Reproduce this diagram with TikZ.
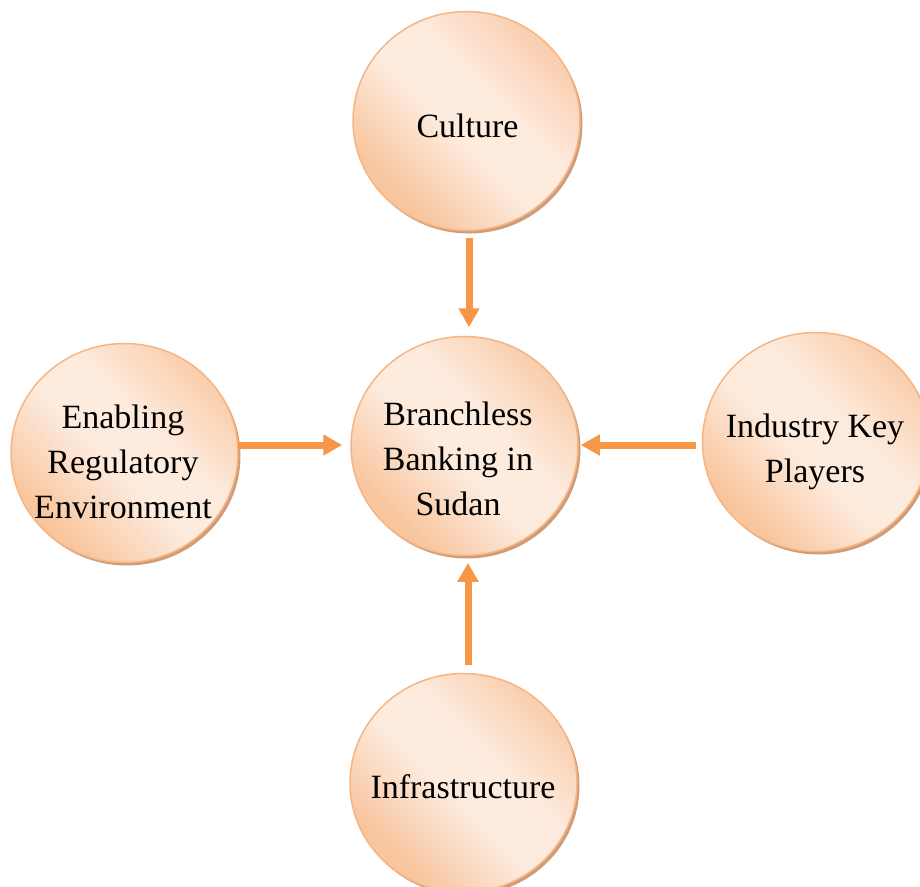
\documentclass[tikz,border=0pt]{standalone}
\usepackage{fontspec}
\setmainfont{Liberation Serif}
\usetikzlibrary{arrows.meta,shapes.geometric,calc,shadows}
\definecolor{pkD}{HTML}{F8C59D}
\definecolor{pkL}{HTML}{FDEBDE}
\definecolor{pkB}{HTML}{F5B584}
\definecolor{pkS}{HTML}{D09C78}
\definecolor{arrC}{HTML}{F79646}
\pgfdeclareverticalshading{peach}{100bp}{color(0bp)=(pkD); color(27bp)=(pkD); color(46bp)=(pkL); color(58bp)=(pkL); color(80bp)=(pkD); color(100bp)=(pkD)}
\tikzset{
  bubble/.style={ellipse, minimum width=227pt, minimum height=219pt, inner sep=0pt,
    shading=peach, shading angle=-45, draw=pkB, line width=1.5pt,
    drop shadow={shadow xshift=2.5pt, shadow yshift=-3pt, fill=pkS, opacity=1}},
  txt/.style={font=\fontsize{34}{45}\selectfont, align=center, inner sep=0pt, text=black},
  arr/.style={draw=arrC, line width=7pt, -{Triangle[width=20pt,length=19pt]}}
}
\begin{document}
\begin{tikzpicture}[x=1pt,y=-1pt]
\useasboundingbox (0,0) rectangle (920,886);
\node[bubble] (cu) at (466.5,121) {};
\node[bubble] (cc) at (464.5,446) {};
\node[bubble] (lc) at (124.5,453) {};
\node[bubble] (rc) at (816,442) {};
\node[bubble] (bc) at (463.5,783) {};

\node[txt, anchor=base] (tcu) at (467.5,137) {Culture};
\node[txt] (tcc) at (458,459) {Branchless\\Banking in\\Sudan};
\node[txt] (tlc) at (123,461.5) {Enabling\\Regulatory\\Environment};
\node[txt] (trc) at (815,452) {Industry Key\\Players};
\node[txt, anchor=base] (tbc) at (463,798) {Infrastructure};

\draw[arr] ($(cu.south)+(2.5,6.5)$) -- ($(cc.north)+(4.5,-8.5)$);
\draw[arr] ($(lc.east)+(-1,-8)$) -- ($(cc.west)+(-8,-1)$);
\draw[arr] ($(rc.west)+(-5.5,3)$) -- ($(cc.east)+(2,-1)$);
\draw[arr] ($(bc.north)+(4.5,-7.5)$) -- ($(cc.south)+(3.5,6.5)$);
\end{tikzpicture}
\end{document}
